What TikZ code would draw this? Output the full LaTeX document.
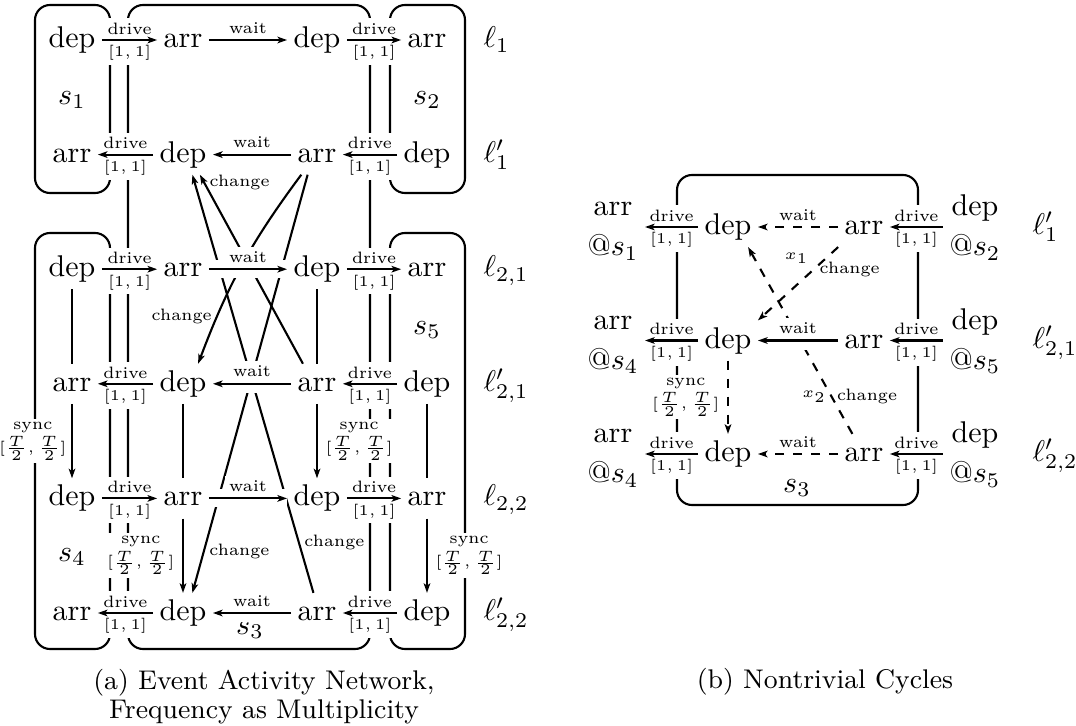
\documentclass[tikz,border=0pt]{standalone}
\usepackage{amsmath,amssymb}
\usepackage{tikz}
\usetikzlibrary{arrows.meta, positioning, calc}

\begin{document}
\begin{tikzpicture}[x=0.3333pt, y=-0.3333pt, >={Stealth[length=3.2pt, width=2.2pt, inset=0.8pt]},
    ev/.style={inner sep=2pt, text height=0.7em, text depth=0.2em},
    twoline/.style={align=center, inner sep=2pt},
    lab/.style={font=\fontsize{5.5}{6.5}\selectfont, inner sep=1.5pt},
    wlab/.style={lab, fill=white},
    dlab/.style={wlab, behind path},
    synclab/.style={wlab, align=center, inner sep=1pt},
    line/.style={draw, ->, line width=0.7pt},
    tie/.style={draw, line width=0.7pt},
    halo/.style={preaction={draw=white, line width=6pt, solid, -}},
    grp/.style={draw, line width=0.7pt, rounded corners=5pt},
    captext/.style={align=center, font=\fontsize{9}{9.7}\selectfont}]

    \useasboundingbox (0,0) rectangle (1076,726);

    % (a) event activity network
    \node[ev] (n1a) at (72,40) {dep};
    \node[ev] (n1b) at (183,40) {arr};
    \node[ev] (n1c) at (317,40) {dep};
    \node[ev] (n1d) at (427,40) {arr};
    \node[ev, anchor=west] (l1) at (477,40) {$\ell_1$};

    \node[ev] (n2a) at (72,154.6) {arr};
    \node[ev] (n2b) at (183,154.6) {dep};
    \node[ev] (n2c) at (317,154.6) {arr};
    \node[ev] (n2d) at (427,154.6) {dep};
    \node[ev, anchor=west] (l2) at (477,154.6) {$\ell'_1$};

    \node[ev] (n3a) at (72,269.2) {dep};
    \node[ev] (n3b) at (183,269.2) {arr};
    \node[ev] (n3c) at (317,269.2) {dep};
    \node[ev] (n3d) at (427,269.2) {arr};
    \node[ev, anchor=west] (l3) at (477,269.2) {$\ell_{2,1}$};

    \node[ev] (n4a) at (72,383.8) {arr};
    \node[ev] (n4b) at (183,383.8) {dep};
    \node[ev] (n4c) at (317,383.8) {arr};
    \node[ev] (n4d) at (427,383.8) {dep};
    \node[ev, anchor=west] (l4) at (477,383.8) {$\ell'_{2,1}$};

    \node[ev] (n5a) at (72,498.4) {dep};
    \node[ev] (n5b) at (183,498.4) {arr};
    \node[ev] (n5c) at (317,498.4) {dep};
    \node[ev] (n5d) at (427,498.4) {arr};
    \node[ev, anchor=west] (l5) at (477,498.4) {$\ell_{2,2}$};

    \node[ev] (n6a) at (72,613) {arr};
    \node[ev] (n6b) at (183,613) {dep};
    \node[ev] (n6c) at (317,613) {arr};
    \node[ev] (n6d) at (427,613) {dep};
    \node[ev, anchor=west] (l6) at (477,613) {$\ell'_{2,2}$};

    % stations
    \draw[grp] (35,5) rectangle (110,193);
    \draw[grp] (390,5) rectangle (465,193);
    \draw[grp] (128,5) rectangle (370,649);
    \draw[grp] (35,233) rectangle (110,649);
    \draw[grp] (390,233) rectangle (465,649);
    \node (s1) at (72,100) {$s_1$};
    \node (s2) at (427,100) {$s_2$};
    \node (s3) at (250,630) {$s_3$};
    \node (s4) at (72,557) {$s_4$};
    \node (s5) at (427,330) {$s_5$};

    % change activities
    \path[line] (n6c.100) -- node[lab, pos=.12, right] {change} (n2b.-65);
    \path[line] (n2c.-115) -- node[lab, pos=.9, right] {change} (n6b.65);
    \path[line] (n2c.-128) to[bend right=8] node[lab, pos=.78, left] {change} (n4b.53);
    \path[line] (n4c.125) -- node[lab, pos=.96, right] {change} (n2b.-50);

    % drive and wait
    \path[line] (n1a) -- node[dlab, above] {drive} node[dlab, below] {$[1,1]$} (n1b);
    \path[line, halo] (n1b) -- node[wlab, above=.4pt] {wait} (n1c);
    \path[line] (n1c) -- node[dlab, above] {drive} node[dlab, below] {$[1,1]$} (n1d);

    \path[line] (n2d) -- node[dlab, above] {drive} node[dlab, below] {$[1,1]$} (n2c);
    \path[line, halo] (n2c) -- node[wlab, above=.4pt] {wait} (n2b);
    \path[line] (n2b) -- node[dlab, above] {drive} node[dlab, below] {$[1,1]$} (n2a);

    \path[line] (n3a) -- node[dlab, above] {drive} node[dlab, below] {$[1,1]$} (n3b);
    \path[line, halo] (n3b) -- node[wlab, above=.4pt] {wait} (n3c);
    \path[line] (n3c) -- node[dlab, above] {drive} node[dlab, below] {$[1,1]$} (n3d);

    \path[line] (n4d) -- node[dlab, above] {drive} node[dlab, below] {$[1,1]$} (n4c);
    \path[line, halo] (n4c) -- node[wlab, above=.4pt] {wait} (n4b);
    \path[line] (n4b) -- node[dlab, above] {drive} node[dlab, below] {$[1,1]$} (n4a);

    \path[line] (n5a) -- node[dlab, above] {drive} node[dlab, below] {$[1,1]$} (n5b);
    \path[line, halo] (n5b) -- node[wlab, above=.4pt] {wait} (n5c);
    \path[line] (n5c) -- node[dlab, above] {drive} node[dlab, below] {$[1,1]$} (n5d);

    \path[line] (n6d) -- node[dlab, above] {drive} node[dlab, below] {$[1,1]$} (n6c);
    \path[line, halo] (n6c) -- node[wlab, above=.4pt] {wait} (n6b);
    \path[line] (n6b) -- node[dlab, above] {drive} node[dlab, below] {$[1,1]$} (n6a);

    % sync
    \path[tie] (n3a) -- (n4a);
    \path[line] (n4a) -- node[synclab, left=.5pt] {sync\\[1.2pt]$[\frac{T}{2},\frac{T}{2}]$} (n5a);
    \path[tie] (n3c) -- (n4c);
    \path[line] (n4c) -- node[synclab, right=1.5pt] {sync\\[1.2pt]$[\frac{T}{2},\frac{T}{2}]$} (n5c);
    \path[tie] (n4b) -- (n5b);
    \path[line] (n5b) -- node[synclab, left=1.5pt] {sync\\[1.2pt]$[\frac{T}{2},\frac{T}{2}]$} (n6b);
    \path[tie] (n4d) -- (n5d);
    \path[line] (n5d) -- node[synclab, right=1.5pt] {sync\\[1.2pt]$[\frac{T}{2},\frac{T}{2}]$} (n6d);

    \node[captext] (capa) at (264,697) {(a) Event Activity Network,\\Frequency as Multiplicity};

    % (b) nontrivial cycles
    \node[twoline] (m1a) at (613,228.5) {arr\strut\\[1.3pt]@$s_1$\strut};
    \node[ev] (m1b) at (728,227) {dep};
    \node[ev] (m1c) at (864,227) {arr};
    \node[twoline] (m1d) at (975,228.5) {dep\strut\\[1.3pt]@$s_2$\strut};
    \node[ev, anchor=west] (k1) at (1026,227) {$\ell'_1$};

    \node[twoline] (m2a) at (613,342) {arr\strut\\[1.3pt]@$s_4$\strut};
    \node[ev] (m2b) at (728,340.5) {dep};
    \node[ev] (m2c) at (864,340.5) {arr};
    \node[twoline] (m2d) at (975,342) {dep\strut\\[1.3pt]@$s_5$\strut};
    \node[ev, anchor=west] (k2) at (1026,340.5) {$\ell'_{2,1}$};

    \node[twoline] (m3a) at (613,455.5) {arr\strut\\[1.3pt]@$s_4$\strut};
    \node[ev] (m3b) at (728,454) {dep};
    \node[ev] (m3c) at (864,454) {arr};
    \node[twoline] (m3d) at (975,455.5) {dep\strut\\[1.3pt]@$s_5$\strut};
    \node[ev, anchor=west] (k3) at (1026,454) {$\ell'_{2,2}$};

    \draw[grp] (677,175) rectangle (918,505);
    \node (t3) at (797,488) {$s_3$};

    \path[line, dashed] (m1c.south west) -- node[lab, pos=.3, above left] {$x_1$} node[lab, pos=.3, right] {change} (m2b.north east);
    \path[line, dashed] (m3c.120) -- node[lab, pos=.2, left] {$x_2$} node[lab, pos=.2, right] {change} (m1b.-45);

    \path[line] (m1b) -- node[dlab, above] {drive} node[dlab, below] {$[1,1]$} (m1b -| m1a.east);
    \path[line, dashed, halo] (m1c) -- node[wlab, above=.4pt] {wait} (m1b);
    \path[line] (m1c -| m1d.west) -- node[dlab, above] {drive} node[dlab, below] {$[1,1]$} (m1c);

    \path[line] (m2b) -- node[dlab, above] {drive} node[dlab, below] {$[1,1]$} (m2b -| m2a.east);
    \path[line, halo] (m2c) -- node[wlab, above=.4pt] {wait} (m2b);
    \path[line] (m2c -| m2d.west) -- node[dlab, above] {drive} node[dlab, below] {$[1,1]$} (m2c);

    \path[line] (m3b) -- node[dlab, above] {drive} node[dlab, below] {$[1,1]$} (m3b -| m3a.east);
    \path[line, dashed, halo] (m3c) -- node[wlab, above=.4pt] {wait} (m3b);
    \path[line] (m3c -| m3d.west) -- node[dlab, above] {drive} node[dlab, below] {$[1,1]$} (m3c);

    \path[line, dashed] (m2b) -- node[synclab, left=1.5pt] {sync\\[1.2pt]$[\frac{T}{2},\frac{T}{2}]$} (m3b);

    \node[captext] (capb) at (825,682) {(b) Nontrivial Cycles};
\end{tikzpicture}
\end{document}
